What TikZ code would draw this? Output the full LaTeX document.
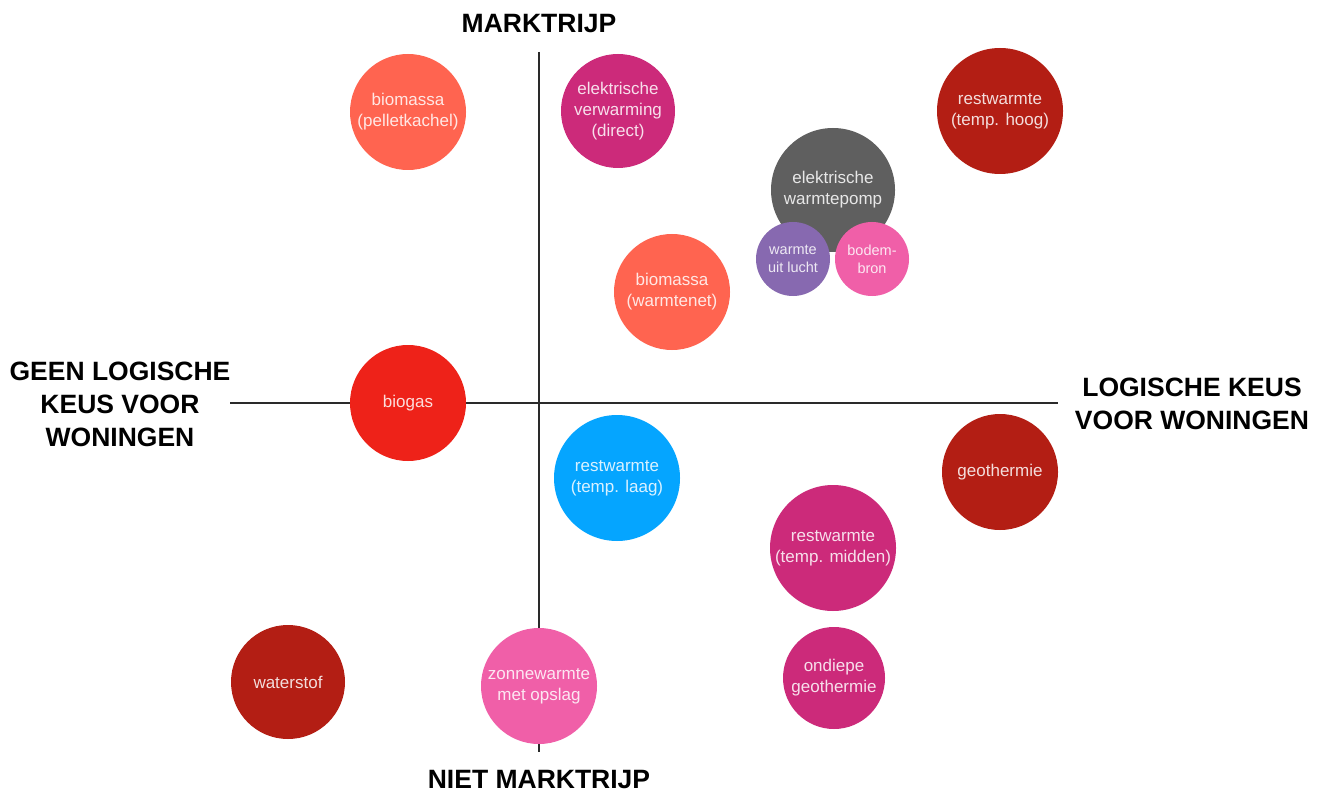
\documentclass[tikz,border=0pt]{standalone}
\usepackage{fontspec}
\setmainfont{Liberation Sans}
\definecolor{coral}{HTML}{FF6450}
\definecolor{magenta}{HTML}{CC2A7A}
\definecolor{darkred}{HTML}{B31E14}
\definecolor{grayp}{HTML}{5F5F5F}
\definecolor{purplec}{HTML}{8769B0}
\definecolor{pinkc}{HTML}{F05FA8}
\definecolor{redc}{HTML}{EE2219}
\definecolor{bluec}{HTML}{05A5FF}
\definecolor{axisc}{HTML}{2A2A2A}
\tikzset{
  bubble/.style={circle, inner sep=0pt, align=center, text=white, text opacity=0.85,
    font=\fontsize{17}{21}\selectfont},
  axislabel/.style={align=center, font=\fontsize{26.5}{33}\selectfont\bfseries, text=black},
  axisline/.style={draw=axisc, line width=1.5pt}
}
\begin{document}
\begin{tikzpicture}[x=1pt,y=-1pt]
\useasboundingbox (0,0) rectangle (1327,794);
\fill[white] (0,0) rectangle (1327,794);
% axes
\coordinate (vtop) at (539,52);
\coordinate (vbot) at (539,752);
\coordinate (hl) at (230,403);
\coordinate (hr) at (1058,403);
\draw[axisline] (vtop) -- (vbot);
\draw[axisline] (hl) -- (hr);
% axis labels
\node[axislabel] (top) at (539,24) {MARKTRIJP};
\node[axislabel] (bottom) at (539,780) {NIET MARKTRIJP};
\node[axislabel] (left) at (120,404) {GEEN LOGISCHE\\KEUS VOOR\\WONINGEN};
\node[axislabel] (right) at (1192,404) {LOGISCHE KEUS\\VOOR WONINGEN};
% bubbles
\node[bubble, fill=coral, minimum size=116pt] (bpel) at (408,112) {biomassa\\(pelletkachel)};
\node[bubble, fill=magenta, minimum size=114pt] (elv) at (618,111) {elektrische\\verwarming\\(direct)};
\node[bubble, fill=darkred, minimum size=126pt] (rwh) at (1000,111) {restwarmte\\(temp. hoog)};
\node[bubble, fill=grayp, minimum size=124pt] (ewp) at (833,190) {elektrische\\warmtepomp};
\node[bubble, fill=purplec, minimum size=74pt, font=\fontsize{14.5}{18}\selectfont] (wul) at (793,259) {warmte\\uit lucht};
\node[bubble, fill=pinkc, minimum size=74pt, font=\fontsize{14.5}{18}\selectfont] (bbr) at (872,259) {bodem-\\bron};
\node[bubble, fill=coral, minimum size=116pt] (bwn) at (672,292) {biomassa\\(warmtenet)};
\node[bubble, fill=redc, minimum size=116pt] (bgas) at (408,403) {biogas};
\node[bubble, fill=bluec, minimum size=126pt] (rwl) at (617,478) {restwarmte\\(temp. laag)};
\node[bubble, fill=darkred, minimum size=116pt] (geo) at (1000,472) {geothermie};
\node[bubble, fill=magenta, minimum size=126pt] (rwm) at (833,548) {restwarmte\\(temp. midden)};
\node[bubble, fill=magenta, minimum size=102pt] (ogeo) at (834,678) {ondiepe\\geothermie};
\node[bubble, fill=darkred, minimum size=114pt] (wst) at (288,682) {waterstof};
\node[bubble, fill=pinkc, minimum size=116pt] (zon) at (539,686) {zonnewarmte\\met opslag};
\end{tikzpicture}
\end{document}
